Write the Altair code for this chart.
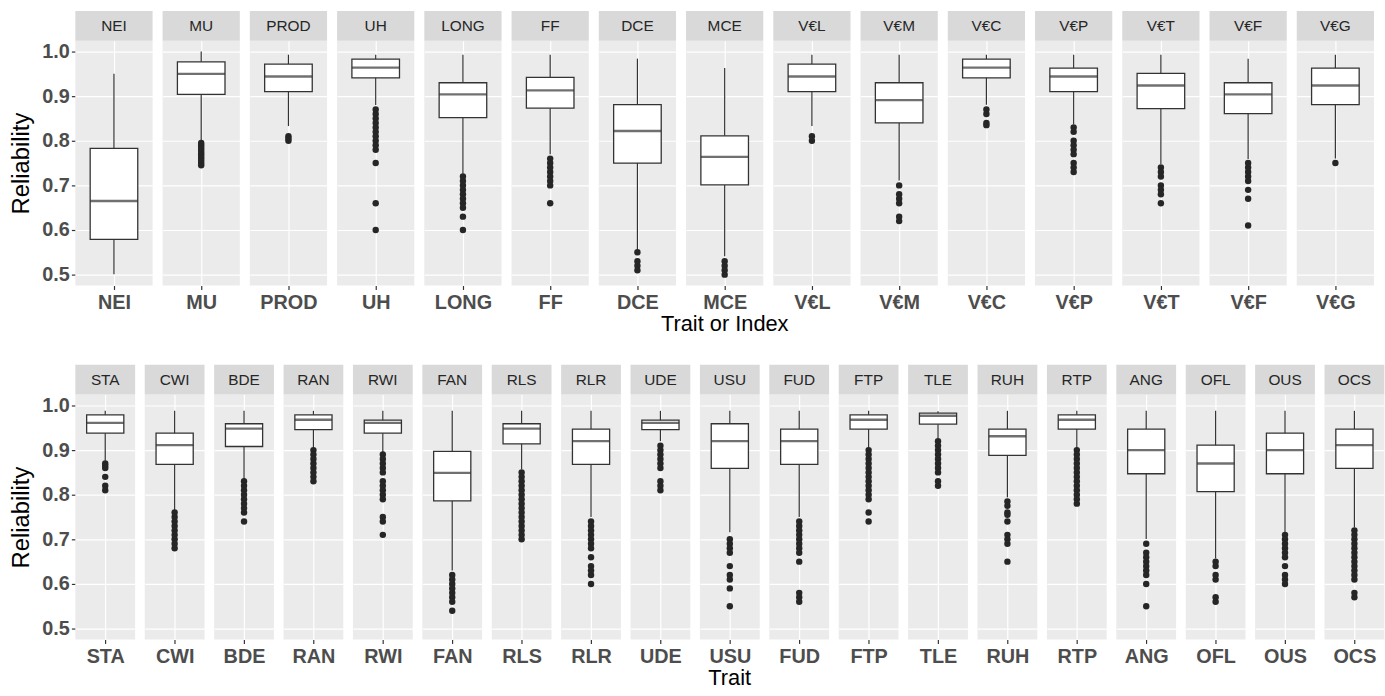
import altair as alt
import pandas as pd

# ---------------- data ----------------
top_traits = ["NEI", "MU", "PROD", "UH", "LONG", "FF", "DCE", "MCE",
              "V€L", "V€M", "V€C", "V€P", "V€T", "V€F", "V€G"]
top_low = [0.501, 0.800, 0.833, 0.880, 0.726, 0.770, 0.556, 0.541,
           0.833, 0.711, 0.881, 0.837, 0.748, 0.759, 0.760]
top_q1 = [0.579, 0.904, 0.910, 0.941, 0.852, 0.873, 0.750, 0.701,
          0.910, 0.840, 0.941, 0.910, 0.872, 0.861, 0.881]
top_med = [0.665, 0.950, 0.944, 0.964, 0.904, 0.913, 0.822, 0.764,
           0.944, 0.891, 0.964, 0.944, 0.924, 0.904, 0.924]
top_q3 = [0.783, 0.977, 0.972, 0.983, 0.930, 0.942, 0.881, 0.811,
          0.972, 0.930, 0.983, 0.963, 0.951, 0.930, 0.963]
top_high = [0.950, 1.000, 0.993, 0.993, 0.993, 0.993, 0.984, 0.963,
            0.993, 0.993, 0.993, 0.993, 0.993, 0.984, 0.993]
top_outliers = {
    "NEI": [],
    "MU": [0.795, 0.79, 0.785, 0.78, 0.775, 0.77, 0.765, 0.76, 0.755, 0.75, 0.745],
    "PROD": [0.81, 0.805, 0.80],
    "UH": [0.87, 0.86, 0.85, 0.84, 0.83, 0.82, 0.81, 0.80, 0.79, 0.78, 0.75, 0.66, 0.60],
    "LONG": [0.72, 0.71, 0.70, 0.69, 0.68, 0.67, 0.66, 0.65, 0.63, 0.60],
    "FF": [0.76, 0.75, 0.74, 0.73, 0.72, 0.71, 0.70, 0.66],
    "DCE": [0.55, 0.53, 0.52, 0.51],
    "MCE": [0.53, 0.52, 0.51, 0.50],
    "V€L": [0.81, 0.80],
    "V€M": [0.70, 0.68, 0.67, 0.66, 0.63, 0.62],
    "V€C": [0.87, 0.86, 0.84, 0.835],
    "V€P": [0.83, 0.82, 0.80, 0.79, 0.78, 0.77, 0.75, 0.74, 0.73],
    "V€T": [0.74, 0.73, 0.72, 0.70, 0.69, 0.68, 0.66],
    "V€F": [0.75, 0.74, 0.73, 0.72, 0.71, 0.69, 0.67, 0.61],
    "V€G": [0.75],
}

bot_traits = ["STA", "CWI", "BDE", "RAN", "RWI", "FAN", "RLS", "RLR", "UDE", "USU",
              "FUD", "FTP", "TLE", "RUH", "RTP", "ANG", "OFL", "OUS", "OCS"]
bot_low = [0.876, 0.764, 0.835, 0.905, 0.894, 0.630, 0.857, 0.750, 0.920, 0.716,
           0.750, 0.905, 0.927, 0.794, 0.905, 0.701, 0.657, 0.716, 0.727]
bot_q1 = [0.938, 0.868, 0.908, 0.946, 0.938, 0.786, 0.914, 0.868, 0.946, 0.859,
          0.868, 0.947, 0.958, 0.888, 0.947, 0.847, 0.807, 0.847, 0.859]
bot_med = [0.961, 0.911, 0.948, 0.968, 0.961, 0.849, 0.948, 0.920, 0.961, 0.920,
           0.920, 0.968, 0.977, 0.931, 0.968, 0.900, 0.870, 0.900, 0.911]
bot_q3 = [0.979, 0.938, 0.959, 0.979, 0.967, 0.897, 0.959, 0.947, 0.967, 0.959,
          0.947, 0.979, 0.983, 0.947, 0.979, 0.947, 0.911, 0.938, 0.947]
bot_high = [0.988, 0.988, 0.988, 0.988, 0.988, 0.988, 0.988, 0.988, 0.988, 0.988,
            0.988, 0.988, 0.987, 0.988, 0.988, 0.988, 0.988, 0.988, 0.988]
bot_outliers = {
    "STA": [0.87, 0.865, 0.86, 0.84, 0.82, 0.81],
    "CWI": [0.76, 0.75, 0.74, 0.73, 0.72, 0.71, 0.70, 0.69, 0.68],
    "BDE": [0.83, 0.82, 0.81, 0.80, 0.79, 0.78, 0.77, 0.76, 0.74],
    "RAN": [0.90, 0.89, 0.88, 0.87, 0.86, 0.85, 0.84, 0.83],
    "RWI": [0.89, 0.88, 0.87, 0.86, 0.85, 0.83, 0.82, 0.81, 0.80, 0.79, 0.75, 0.74, 0.71],
    "FAN": [0.62, 0.61, 0.60, 0.59, 0.58, 0.57, 0.56, 0.54],
    "RLS": [0.85, 0.84, 0.83, 0.82, 0.81, 0.80, 0.79, 0.78, 0.77, 0.76, 0.75, 0.74,
            0.73, 0.72, 0.71, 0.70],
    "RLR": [0.74, 0.73, 0.72, 0.71, 0.70, 0.69, 0.68, 0.66, 0.64, 0.63, 0.62, 0.60],
    "UDE": [0.91, 0.90, 0.89, 0.88, 0.87, 0.86, 0.83, 0.82, 0.81],
    "USU": [0.70, 0.69, 0.68, 0.67, 0.64, 0.62, 0.61, 0.59, 0.55],
    "FUD": [0.74, 0.73, 0.72, 0.71, 0.70, 0.69, 0.68, 0.67, 0.65, 0.58, 0.57, 0.56],
    "FTP": [0.90, 0.89, 0.88, 0.87, 0.86, 0.85, 0.84, 0.83, 0.82, 0.81, 0.80, 0.79,
            0.76, 0.74],
    "TLE": [0.92, 0.91, 0.90, 0.89, 0.88, 0.87, 0.86, 0.85, 0.83, 0.82],
    "RUH": [0.785, 0.775, 0.76, 0.755, 0.74, 0.71, 0.70, 0.69, 0.65],
    "RTP": [0.90, 0.89, 0.88, 0.87, 0.86, 0.85, 0.84, 0.83, 0.82, 0.81, 0.80, 0.79, 0.78],
    "ANG": [0.69, 0.67, 0.66, 0.65, 0.64, 0.63, 0.62, 0.60, 0.55],
    "OFL": [0.65, 0.64, 0.62, 0.61, 0.57, 0.56],
    "OUS": [0.71, 0.70, 0.69, 0.68, 0.67, 0.66, 0.64, 0.62, 0.61, 0.60],
    "OCS": [0.72, 0.71, 0.70, 0.69, 0.68, 0.67, 0.66, 0.65, 0.64, 0.63, 0.62, 0.61,
            0.58, 0.57],
}

y_ticks = [0.5, 0.55, 0.6, 0.65, 0.7, 0.75, 0.8, 0.85, 0.9, 0.95, 1.0]

FONT = "Liberation Sans"
MAJOR = "abs(datum.value*10 - round(datum.value*10)) < 0.01"


def build_table(traits, low, q1, med, q3, high, outliers):
    rows = []
    for i, t in enumerate(traits):
        rows.append(dict(trait=t, kind="box", low=low[i], q1=q1[i], med=med[i],
                         q3=q3[i], high=high[i], value=None))
        for v in outliers[t]:
            rows.append(dict(trait=t, kind="out", low=None, q1=None, med=None,
                             q3=None, high=None, value=v))
    return pd.DataFrame(rows)


def row_chart(df, traits, cell_w, spacing, box_w, title):
    base = alt.Chart()
    x_enc = alt.X("trait:N", sort=traits,
                  scale=alt.Scale(type="point", padding=0.5),
                  axis=alt.Axis(title=None, labelFont=FONT, labelFontSize=20,
                                labelFontWeight="bold", labelColor="#4d4d4d",
                                labelPadding=3, tickColor="#333333", tickSize=4,
                                tickWidth=1.2, domain=False, grid=True,
                                gridColor="white", gridWidth=1.2, labelAngle=0))
    y_scale = alt.Scale(domain=[0.4756, 1.0244], nice=False, zero=False)
    y_axis = alt.Axis(title="Reliability", values=y_ticks,
                      labelExpr=f"{MAJOR} ? format(datum.value, '.1f') : ''",
                      labelFont=FONT, labelFontSize=20, labelFontWeight="bold",
                      labelColor="#4d4d4d", labelPadding=2,
                      tickSize=4, tickWidth=1.2,
                      tickColor={"condition": {"test": MAJOR, "value": "#333333"},
                                 "value": "transparent"},
                      domain=False, grid=True, gridColor="white",
                      gridWidth={"condition": {"test": MAJOR, "value": 1.2},
                                 "value": 0.6},
                      titleFont=FONT, titleFontSize=24, titleFontWeight="normal",
                      titleColor="black", titlePadding=8)

    box_only = alt.datum.kind == "box"
    whisker = base.mark_rule(color="#333333", strokeWidth=1.2).encode(
        x=x_enc,
        y=alt.Y("low:Q", scale=y_scale, axis=y_axis),
        y2="high:Q",
    ).transform_filter(box_only)
    box = base.mark_bar(fill="white", stroke="#333333", strokeWidth=1.3,
                        size=box_w).encode(
        x=x_enc,
        y=alt.Y("q1:Q", scale=y_scale),
        y2="q3:Q",
    ).transform_filter(box_only)
    median = base.mark_tick(color="#333333", thickness=2.4, size=box_w).encode(
        x=x_enc,
        y=alt.Y("med:Q", scale=y_scale),
    ).transform_filter(box_only)
    pts = base.mark_point(filled=True, color="#262626", opacity=1,
                          size=42).encode(
        x=x_enc,
        y=alt.Y("value:Q", scale=y_scale),
    ).transform_filter(alt.datum.kind == "out")
    strip = base.mark_rect(fill="#d9d9d9").encode(
        x=alt.value(0), x2=alt.value(cell_w),
        y=alt.value(-30), y2=alt.value(0),
    ).transform_filter(box_only)
    strip_txt = base.mark_text(font=FONT, fontSize=15.5, color="#262626",
                               baseline="middle", align="center").encode(
        x=alt.value(cell_w / 2), y=alt.value(-15),
        text="trait:N",
    ).transform_filter(box_only)

    layered = alt.layer(whisker, box, median, pts, strip, strip_txt, data=df).properties(
        width=cell_w, height=247)
    return layered.facet(
        column=alt.Column("trait:N", sort=traits,
                          header=alt.Header(labels=False, title=title,
                                            titleOrient="bottom",
                                            titleFont=FONT, titleFontSize=22,
                                            titleFontWeight="normal",
                                            titleColor="black", titlePadding=-8)),
        spacing=spacing,
    ).resolve_scale(x="independent")


df_top = build_table(top_traits, top_low, top_q1, top_med, top_q3, top_high, top_outliers)
df_bot = build_table(bot_traits, bot_low, bot_q1, bot_med, bot_q3, bot_high, bot_outliers)

top = row_chart(df_top, top_traits, 77.9, 10, 48, "Trait or Index")
bot = row_chart(df_bot, bot_traits, 60.3, 9, 37.5, "Trait")

chart = alt.vconcat(top, bot, spacing=30).properties(
    padding={"left": 10, "top": 8, "right": 0, "bottom": 0},
    background="white",
).configure_view(fill="#ebebeb", stroke=None)

chart.save("out.html", embed_options={"renderer": "svg", "actions": False})
